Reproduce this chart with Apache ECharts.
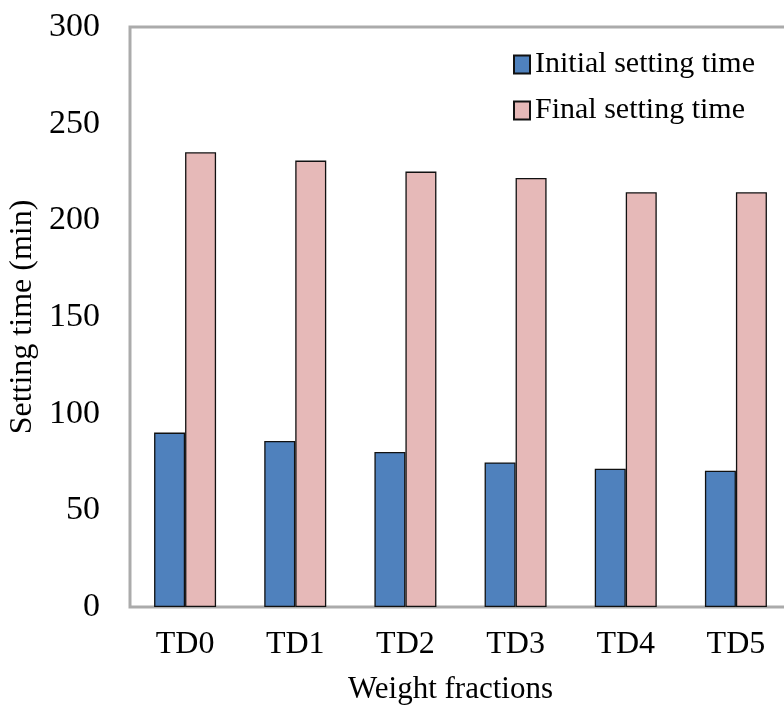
<!DOCTYPE html>
<html>
<head>
<meta charset="utf-8">
<script src="https://cdn.jsdelivr.net/npm/echarts@6/dist/echarts.min.js"></script>
<style>html,body{margin:0;padding:0;background:#fff;}#c{width:784px;height:706px;}</style>
</head>
<body>
<div id="c"></div>
<script>
const categories = ['TD0', 'TD1', 'TD2', 'TD3', 'TD4', 'TD5'];
const initialSetting = [90.2, 85.9, 80.2, 74.8, 71.5, 70.5];
const finalSetting = [235.2, 230.9, 225.2, 221.9, 214.5, 214.5];
const yTicks = { min: 0, max: 300, interval: 50 };

const FONT = '"Liberation Serif", "Times New Roman", serif';
const chart = echarts.init(document.getElementById('c'), null, { renderer: 'canvas' });
chart.setOption({
  animation: false,
  backgroundColor: '#fff',
  textStyle: { fontFamily: FONT, color: '#000' },
  grid: {
    left: 130, top: 27, width: 661, height: 580,
    outerBoundsMode: 'none', containLabel: false,
    show: true, borderColor: '#ababab', borderWidth: 3, backgroundColor: 'transparent'
  },
  legend: {
    orient: 'vertical', left: 508, top: 44, itemWidth: 16, itemHeight: 18, itemGap: 15,
    icon: 'rect',
    textStyle: { fontFamily: FONT, fontSize: 30, color: '#000', lineHeight: 31 },
    data: ['Initial setting time', 'Final setting time']
  },
  xAxis: {
    type: 'category', data: categories,
    name: 'Weight fractions', nameLocation: 'middle', nameGap: 67,
    nameTextStyle: { fontFamily: FONT, fontSize: 31, color: '#000', padding: [0, 20, 0, 0] },
    axisLine: { show: false }, axisTick: { show: false },
    axisLabel: { fontFamily: FONT, fontSize: 32, color: '#000', margin: 22 }
  },
  yAxis: {
    type: 'value', min: yTicks.min, max: yTicks.max, interval: yTicks.interval,
    name: 'Setting time (min)', nameLocation: 'middle', nameGap: 86,
    nameTextStyle: { fontFamily: FONT, fontSize: 32, color: '#000' },
    axisLine: { show: false }, axisTick: { show: false }, splitLine: { show: false },
    axisLabel: { fontFamily: FONT, fontSize: 34, color: '#000', margin: 30 }
  },
  series: [
    {
      name: 'Initial setting time', type: 'bar', data: initialSetting,
      barWidth: 31, barGap: '0%',
      itemStyle: { color: '#4F81BD', borderColor: '#111', borderWidth: 1.3 }
    },
    {
      name: 'Final setting time', type: 'bar', data: finalSetting,
      barWidth: 31, barGap: '0%',
      itemStyle: { color: '#E6B9B8', borderColor: '#111', borderWidth: 1.3 }
    }
  ]
});
</script>
</body>
</html>
